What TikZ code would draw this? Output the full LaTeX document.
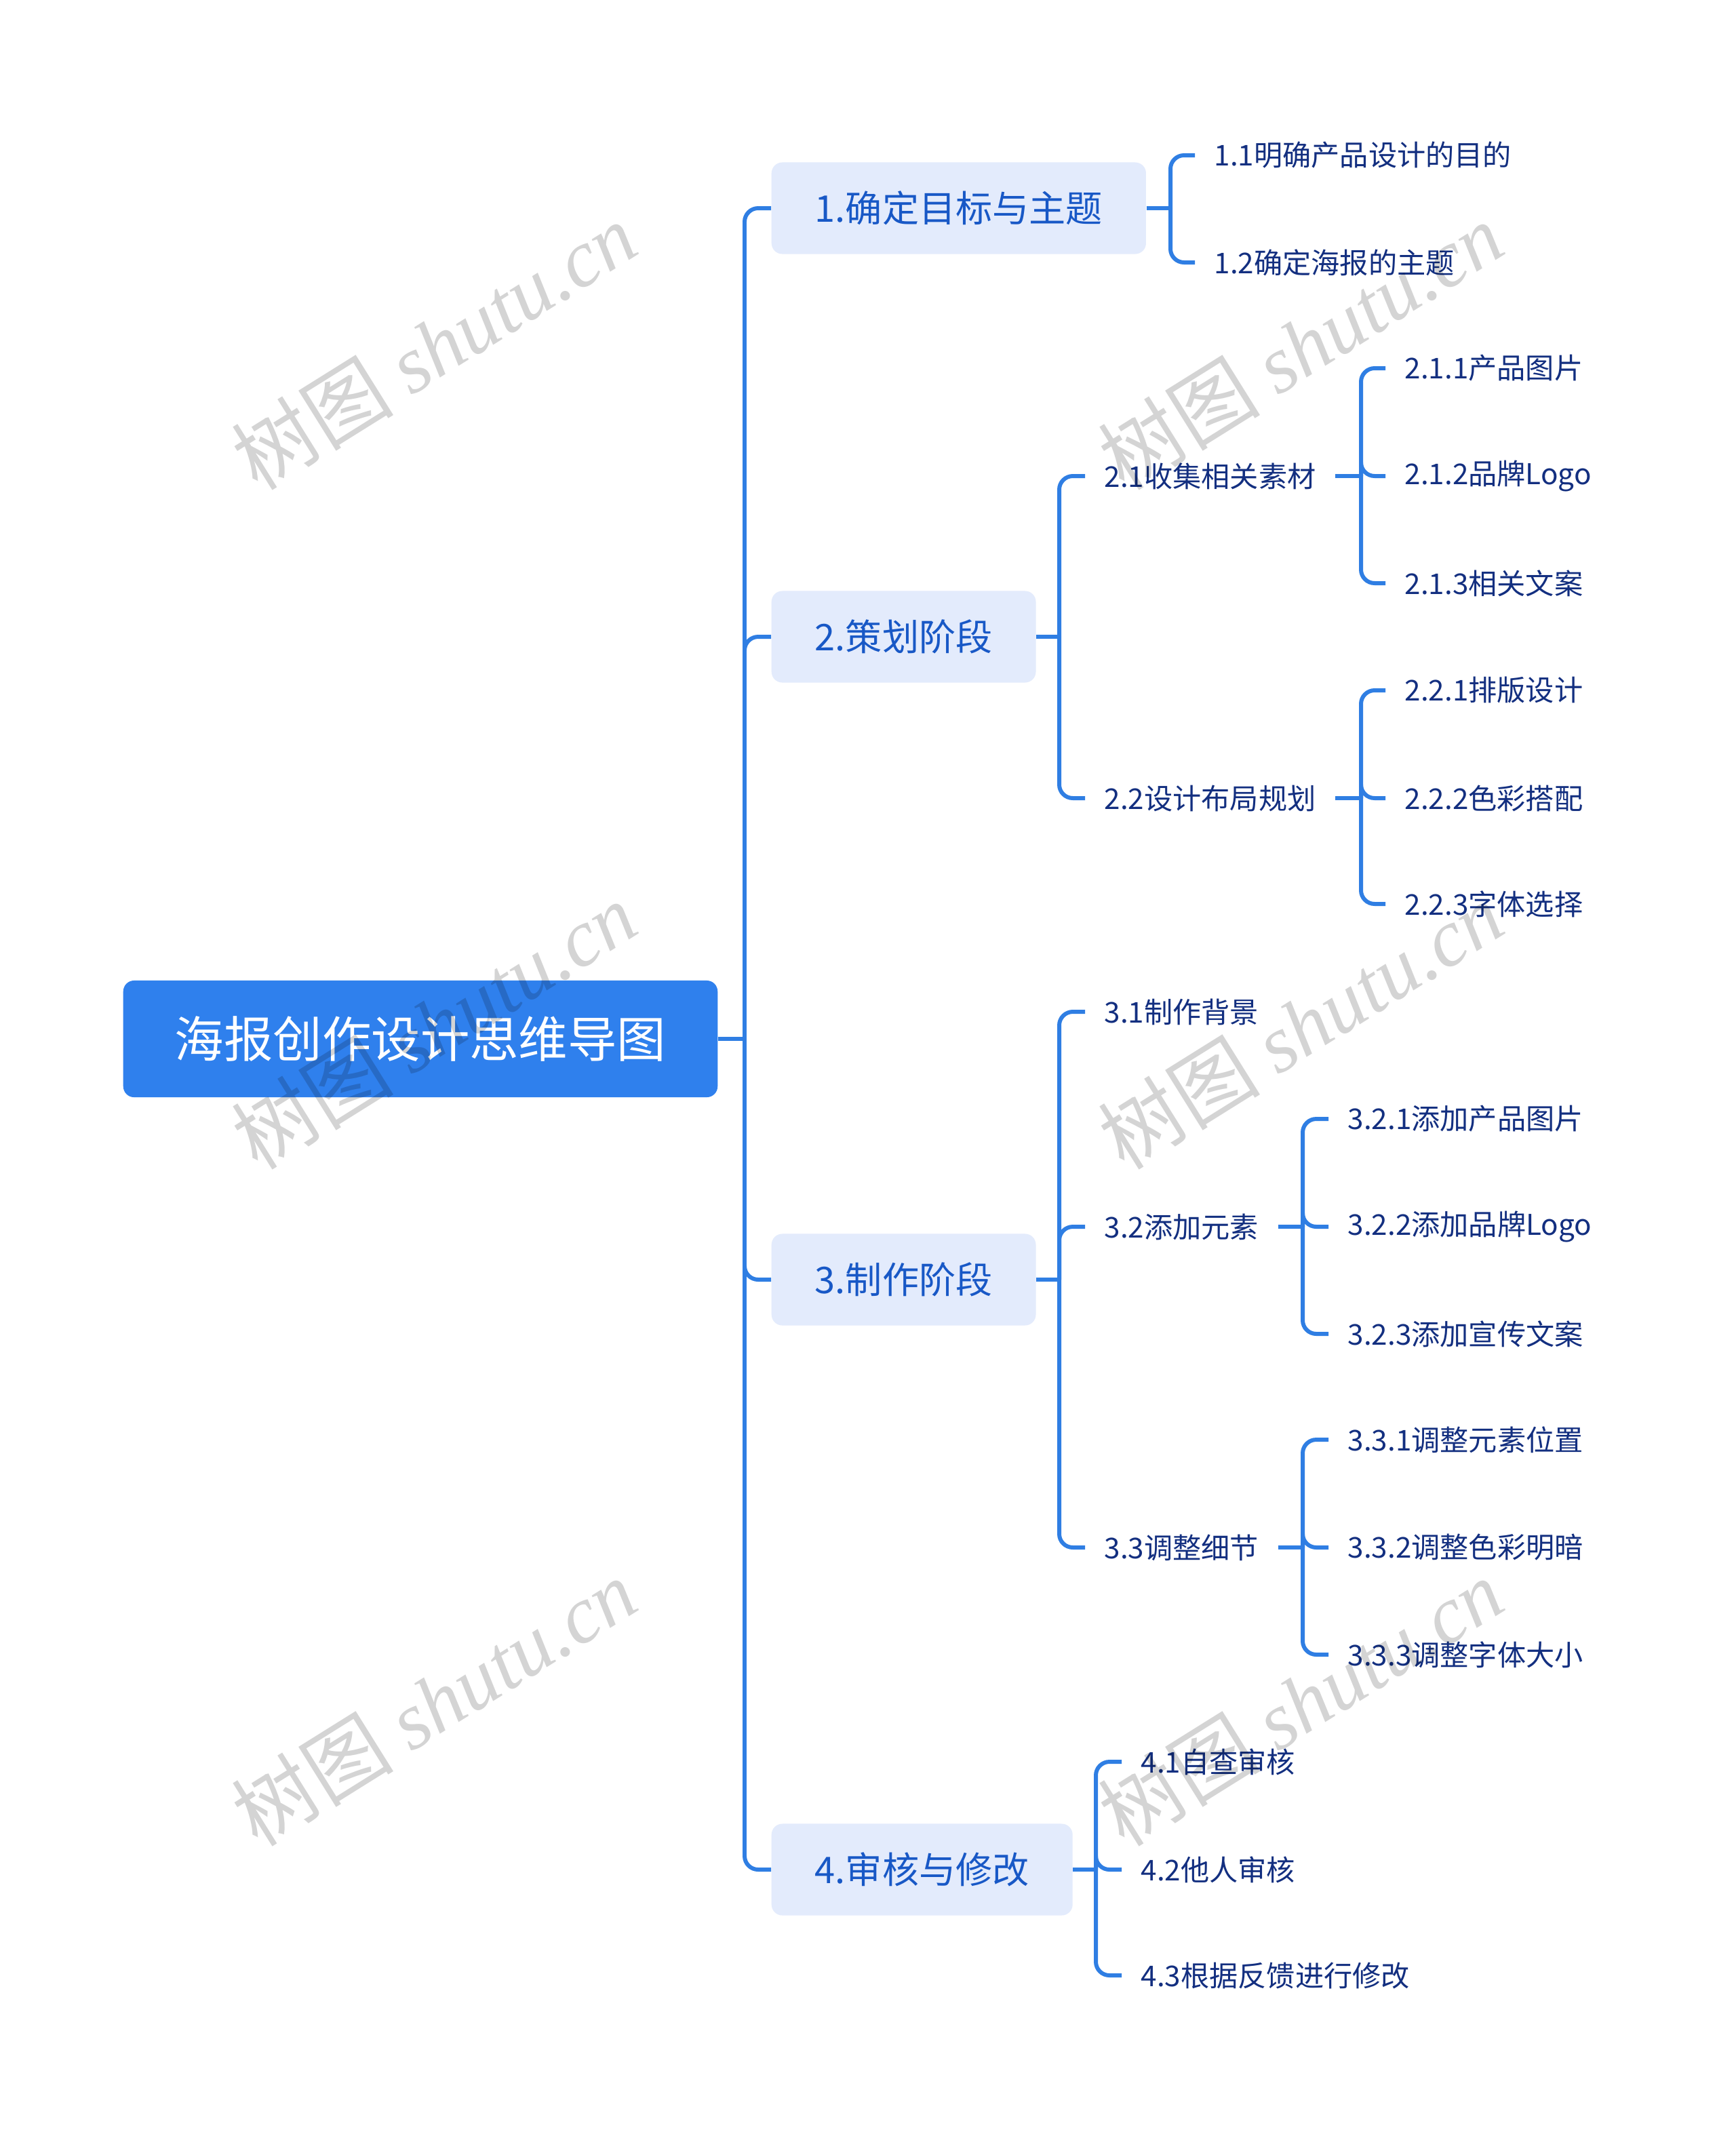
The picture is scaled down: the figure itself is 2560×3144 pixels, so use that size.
\documentclass[tikz,border=0pt]{standalone}
\usepackage{fontspec}
\setmainfont{Noto Sans CJK SC}
\newfontfamily\wmlatin{Liberation Serif}
\newfontfamily\wmcjk{Noto Sans CJK SC}
\definecolor{lineblue}{HTML}{2F7EE3}
\definecolor{rootblue}{HTML}{2F80ED}
\definecolor{lonefill}{HTML}{E3EBFC}
\definecolor{lonetext}{HTML}{1858C6}
\definecolor{subtext}{HTML}{132F80}
\tikzset{
  rootbox/.style={fill=rootblue, text=white, rounded corners=0.16cm, minimum width=8.76cm, minimum height=1.72cm, font=\fontsize{20.6}{24}\selectfont},
  lonebox/.style={fill=lonefill, text=lonetext, rounded corners=0.16cm, minimum height=1.35cm, inner xsep=0.64cm, anchor=west, font=\fontsize{15.4}{18}\selectfont},
  subnode/.style={text=subtext, inner xsep=0.28cm, inner ysep=0.05cm, anchor=west, font=\fontsize{12}{14}\selectfont},
  conn/.style={draw=lineblue, line width=1.7pt, rounded corners=0.2cm},
  wm/.style={text=black, text opacity=0.17, rotate=32, font=\fontsize{34}{38}\selectfont}
}
\begin{document}
\begin{tikzpicture}[x=0.01cm,y=-0.01cm]
\useasboundingbox[fill=white] (0,0) rectangle (2560,3144);

% root
\node[rootbox] (root) at (620,1532) {海报创作设计思维导图};

% level 1
\node[lonebox] (n1) at (1137,307) {1.确定目标与主题};
\node[lonebox] (n2) at (1137,939) {2.策划阶段};
\node[lonebox] (n3) at (1137,1887) {3.制作阶段};
\node[lonebox] (n4) at (1137,2757) {4.审核与修改};

% level 2 / 3
\node[subnode] (n11) at (1762,229) {1.1明确产品设计的目的};
\node[subnode] (n12) at (1762,387) {1.2确定海报的主题};

\node[subnode] (n21) at (1600,702) {2.1收集相关素材};
\node[subnode] (n22) at (1600,1177) {2.2设计布局规划};
\node[subnode] (n211) at (2043,543) {2.1.1产品图片};
\node[subnode] (n212) at (2043,702) {2.1.2品牌Logo};
\node[subnode] (n213) at (2043,860) {2.1.3相关文案};
\node[subnode] (n221) at (2043,1018) {2.2.1排版设计};
\node[subnode] (n222) at (2043,1177) {2.2.2色彩搭配};
\node[subnode] (n223) at (2043,1333) {2.2.3字体选择};

\node[subnode] (n31) at (1600,1492) {3.1制作背景};
\node[subnode] (n32) at (1600,1809) {3.2添加元素};
\node[subnode] (n33) at (1600,2282) {3.3调整细节};
\node[subnode] (n321) at (1959,1650) {3.2.1添加产品图片};
\node[subnode] (n322) at (1959,1809) {3.2.2添加品牌Logo};
\node[subnode] (n323) at (1959,1967) {3.2.3添加宣传文案};
\node[subnode] (n331) at (1959,2123) {3.3.1调整元素位置};
\node[subnode] (n332) at (1959,2282) {3.3.2调整色彩明暗};
\node[subnode] (n333) at (1959,2440) {3.3.3调整字体大小};

\node[subnode] (n41) at (1654,2598) {4.1自查审核};
\node[subnode] (n42) at (1654,2757) {4.2他人审核};
\node[subnode] (n43) at (1654,2913) {4.3根据反馈进行修改};

% junction coordinates
\coordinate (t0) at (1098,1532);
\coordinate (b1) at (1726,307);
\coordinate (b2) at (1562,939);
\coordinate (b21) at (2007,702);
\coordinate (b22) at (2007,1177);
\coordinate (b3) at (1562,1887);
\coordinate (b32) at (1921,1809);
\coordinate (b33) at (1921,2282);
\coordinate (b4) at (1616,2757);

% connectors
\draw[conn] (root.east) -- (t0);
\foreach \c in {n1,n2,n3,n4} \draw[conn] (t0) |- (\c.west);

\draw[conn] (n1.east) -- (b1);
\foreach \c in {n11,n12} \draw[conn] (b1) |- (\c.west);

\draw[conn] (n2.east) -- (b2);
\foreach \c in {n21,n22} \draw[conn] (b2) |- (\c.west);
\draw[conn] (n21.east) -- (b21);
\foreach \c in {n211,n212,n213} \draw[conn] (b21) |- (\c.west);
\draw[conn] (n22.east) -- (b22);
\foreach \c in {n221,n222,n223} \draw[conn] (b22) |- (\c.west);

\draw[conn] (n3.east) -- (b3);
\foreach \c in {n31,n32,n33} \draw[conn] (b3) |- (\c.west);
\draw[conn] (n32.east) -- (b32);
\foreach \c in {n321,n322,n323} \draw[conn] (b32) |- (\c.west);
\draw[conn] (n33.east) -- (b33);
\foreach \c in {n331,n332,n333} \draw[conn] (b33) |- (\c.west);

\draw[conn] (n4.east) -- (b4);
\foreach \c in {n41,n42,n43} \draw[conn] (b4) |- (\c.west);

% watermarks
\foreach \p [count=\i] in {(640,510),(1918,510),(640,1512),(1918,1512),(640,2510),(1918,2510)}
  \node[wm] (wm\i) at \p {{\wmcjk 树图} {\wmlatin\itshape shutu.cn}};
\end{tikzpicture}
\end{document}
